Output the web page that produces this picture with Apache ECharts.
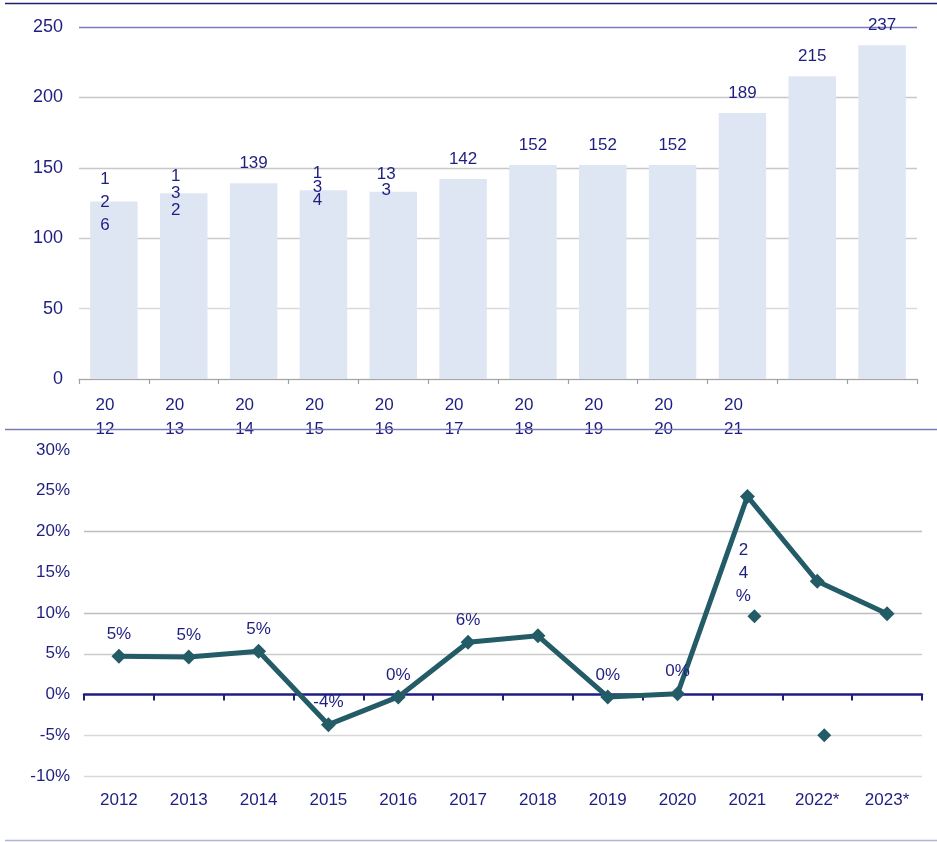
<!DOCTYPE html>
<html>
<head>
<meta charset="utf-8">
<title>chart</title>
<script src="https://cdn.jsdelivr.net/npm/echarts@6/dist/echarts.min.js"></script>
<style>
  html, body { margin: 0; padding: 0; background: #fff; }
  #main { width: 937px; height: 842px; }
</style>
</head>
<body>
<div id="main"></div>
<script>
var years = ['2012', '2013', '2014', '2015', '2016', '2017', '2018', '2019', '2020', '2021', '2022*', '2023*'];
var topTickLabels = ['20\n12', '20\n13', '20\n14', '20\n15', '20\n16', '20\n17', '20\n18', '20\n19', '20\n20', '20\n21', '', ''];
var volumes = [126, 132, 139, 134, 133, 142, 152, 152, 152, 189, 215, 237];
var volumeLabels = ['1\n2\n6', '1\n3\n2', '139', '1\n3\n4', '13\n3', '142', '152', '152', '152', '189', '215', '237'];
var growth = [4.7, 4.6, 5.3, -3.7, -0.3, 6.4, 7.2, -0.3, 0.1, 24.3, 13.9, 9.9];
var growthLabels = ['5%', '5%', '5%', '-4%', '0%', '6%', '', '0%', '0%', '2\n4\n%', '', ''];
var strayPoints = ['-', '-', '-', '-', '-', '-', '-', '-', '-', 9.6, -5.0, '-'];

var navy = '#1E1E82';
var teal = '#235B67';
var font = 'Liberation Sans, Arial, sans-serif';

// squeezed labels in the top chart
var barLabelTweaks = {
  0: { lineHeight: 23, distance: 0, offset: [-9, 35] },
  1: { lineHeight: 17, distance: 0, offset: [-8, 26] },
  3: { lineHeight: 13.5, distance: 0, offset: [-6, 17] },
  4: { lineHeight: 16, distance: 0, offset: [-7, 7] }
};

var barData = volumes.map(function (v, i) {
  var lab = Object.assign({ formatter: volumeLabels[i] }, barLabelTweaks[i] || {});
  return { value: v, label: lab };
});

var lineData = growth.map(function (v, i) {
  var lab = { formatter: growthLabels[i] };
  if (i === 9) {
    lab.position = 'bottom';
    lab.distance = 35;
    lab.lineHeight = 23;
    lab.offset = [-4, 0];
  }
  return { value: v, label: lab };
});

var chart = echarts.init(document.getElementById('main'));
var option = {
  backgroundColor: '#fff',
  animation: false,
  textStyle: { fontFamily: font },
  grid: [
    { left: 79, right: 20, top: 27, height: 352 },
    { left: 84, right: 15, top: 450, height: 326 }
  ],
  xAxis: [
    {
      type: 'category',
      gridIndex: 0,
      data: years,
      axisLine: { lineStyle: { color: '#A6A6A6', width: 1.2 } },
      axisTick: { show: true, inside: false, length: 5, lineStyle: { color: '#A0A0A0', width: 1.2 } },
      axisLabel: {
        color: navy, fontSize: 17, lineHeight: 24, margin: 14,
        padding: [0, 18, 0, 0],
        interval: 0,
        formatter: function (v, i) { return topTickLabels[i]; }
      }
    },
    {
      type: 'category',
      gridIndex: 1,
      data: years,
      position: 'bottom',
      axisLine: { show: true, onZero: true, lineStyle: { color: navy, width: 2.5 } },
      axisTick: { show: true, inside: false, length: 6, lineStyle: { color: navy, width: 2 } },
      axisLabel: { show: false }
    },
    {
      type: 'category',
      gridIndex: 1,
      data: years,
      position: 'bottom',
      axisLine: { show: false, onZero: false },
      axisTick: { show: false },
      axisLabel: { color: navy, fontSize: 17, margin: 16, interval: 0 }
    }
  ],
  yAxis: [
    {
      type: 'value',
      gridIndex: 0,
      min: 0, max: 250, interval: 50,
      axisLine: { show: false },
      axisTick: { show: false },
      axisLabel: { color: navy, fontSize: 18, margin: 16 },
      splitLine: { lineStyle: { color: ['#D0D0D0', '#DADADA', '#CCCCCC', '#C8C8C8', '#C8C8C8', '#7B7BBE'], width: 1.3 } }
    },
    {
      type: 'value',
      gridIndex: 1,
      min: -10, max: 30, interval: 5,
      axisLine: { show: false },
      axisTick: { show: false },
      axisLabel: { color: navy, fontSize: 17, margin: 14, formatter: '{value}%' },
      splitLine: {
        lineStyle: {
          color: ['#D9D9D9', '#D9D9D9', 'transparent', '#CCCCCC', '#BDBDBD', 'transparent', '#BDBDBD', 'transparent', 'transparent'],
          width: 1.3
        }
      }
    }
  ],
  series: [
    {
      type: 'bar',
      xAxisIndex: 0,
      yAxisIndex: 0,
      barWidth: '68%',
      itemStyle: { color: '#DFE6F3' },
      label: { show: true, position: 'top', distance: 10, color: navy, fontSize: 17, lineHeight: 20 },
      data: barData
    },
    {
      type: 'line',
      xAxisIndex: 1,
      yAxisIndex: 1,
      symbol: 'diamond',
      symbolSize: 15,
      lineStyle: { color: teal, width: 5 },
      itemStyle: { color: teal },
      label: { show: true, position: 'top', distance: 6, color: navy, fontSize: 17 },
      data: lineData,
      z: 3
    },
    {
      type: 'scatter',
      xAxisIndex: 1,
      yAxisIndex: 1,
      symbol: 'diamond',
      symbolSize: 14,
      symbolOffset: [7, 0],
      itemStyle: { color: teal, opacity: 1 },
      data: strayPoints
    }
  ],
  graphic: [
    { type: 'line', z: 100, shape: { x1: 5, y1: 3.5, x2: 937, y2: 3.5 }, style: { stroke: '#1F1F6B', lineWidth: 1.5 } },
    { type: 'line', z: 100, shape: { x1: 5, y1: 429.5, x2: 937, y2: 429.5 }, style: { stroke: '#7B7BB8', lineWidth: 1.5 } },
    { type: 'line', z: 100, shape: { x1: 5, y1: 840.5, x2: 937, y2: 840.5 }, style: { stroke: '#B4B4D0', lineWidth: 1.5 } }
  ]
};
chart.setOption(option);
window.addEventListener('resize', function () {
  chart.resize();
});
</script>
</body>
</html>
